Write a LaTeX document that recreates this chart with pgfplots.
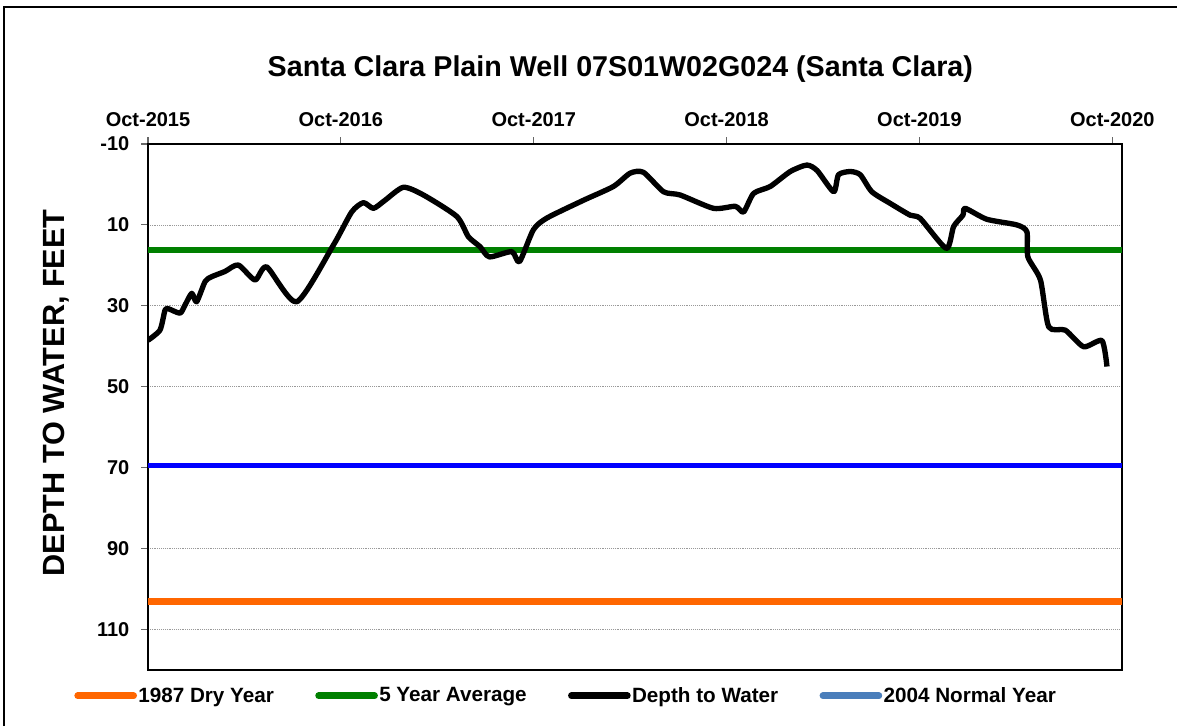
\documentclass[border=0pt]{standalone}
\usepackage{fontspec}
\setmainfont{Liberation Sans}
\usepackage{pgfplots}
\pgfplotsset{compat=1.18}
\definecolor{dryorange}{RGB}{255,102,0}
\definecolor{avggreen}{RGB}{0,128,0}
\definecolor{normblue}{RGB}{0,0,255}
\definecolor{legblue}{RGB}{74,126,187}

% depth to water, x in years after Oct-2015
\pgfplotstableread{
x y
0.000 38.5
0.062 36.0
0.088 31.1
0.105 30.7
0.166 31.8
0.192 29.8
0.227 26.9
0.252 29.0
0.296 24.0
0.330 22.8
0.399 21.5
0.468 19.9
0.555 23.6
0.616 20.4
0.771 29.0
0.961 15.0
1.056 6.8
1.117 4.5
1.169 5.9
1.229 3.9
1.324 0.7
1.428 2.6
1.601 7.9
1.661 12.9
1.722 15.4
1.770 17.9
1.886 16.6
1.926 19.1
1.998 11.2
2.068 8.3
2.258 3.9
2.413 0.5
2.500 -2.8
2.569 -3.0
2.673 1.8
2.759 2.6
2.932 5.9
3.045 5.4
3.088 6.8
3.140 2.2
3.226 0.5
3.330 -3.2
3.416 -4.8
3.470 -3.4
3.555 1.8
3.580 -2.4
3.641 -3.2
3.693 -2.4
3.753 1.8
3.849 4.7
3.952 7.6
4.004 8.4
4.139 15.8
4.177 10.4
4.225 7.6
4.237 5.9
4.349 8.6
4.505 10.0
4.557 11.7
4.562 17.9
4.627 23.6
4.670 35.2
4.756 36.0
4.851 40.1
4.946 38.6
4.972 45.0
}\depthdata

\begin{document}
\begin{tikzpicture}
\useasboundingbox (0,0) rectangle (882.75pt,544.5pt);
\draw[line width=1.6pt] (3pt,0) -- (3pt,539.25pt) -- (882.75pt,539.25pt);
\begin{axis}[
    at={(111pt,42pt)}, anchor=south west,
    scale only axis, width=730.5pt, height=394.5pt,
    xmin=0, xmax=5.05,
    ymin=-10, ymax=120, y dir=reverse,
    xtick={0,1,2,3,4,5},
    xticklabels={Oct-2015,Oct-2016,Oct-2017,Oct-2018,Oct-2019,Oct-2020},
    xticklabel pos=upper, xtick pos=upper,
    ytick={-10,10,30,50,70,90,110}, ytick pos=left,
    tick align=outside, major tick length=5pt,
    tick style={line width=0.8pt, black!60},
    ymajorgrids,
    grid style={densely dotted, gray!80, line width=0.6pt},
    axis line style={line width=1.6pt},
    /pgf/number format/assume math mode=true,
    ticklabel style={font=\bfseries\fontsize{15}{18}\selectfont},
    xticklabel style={yshift=4.5pt},
    yticklabel style={xshift=-5.5pt},
    title={Santa Clara Plain Well 07S01W02G024 (Santa Clara)},
    title style={at={(axis description cs:0.485,1.127)}, anchor=center,
        font=\bfseries\fontsize{21.5}{26}\selectfont},
    ylabel={DEPTH TO WATER, FEET},
    ylabel style={at={(axis description cs:-0.0945,0.527)}, anchor=center,
        font=\bfseries\fontsize{23}{28}\selectfont},
    legend style={at={(axis description cs:-0.08,-0.049)}, anchor=west,
        draw=none, fill=none, legend columns=-1,
        font=\bfseries\fontsize{15.5}{18}\selectfont,
        nodes={inner xsep=1pt},
        /tikz/every even column/.append style={column sep=30pt}},
    legend image code/.code={\draw[#1, line cap=round, line width=5pt] (0pt,0pt) -- (42pt,0pt);},
]
\addplot[dryorange, line width=5.2pt] coordinates {(0,103) (5.05,103)};
\addlegendentry{1987 Dry Year}
\addplot[avggreen, line width=4pt] coordinates {(0,16.2) (5.05,16.2)};
\addlegendentry{5 Year Average}
\addplot[normblue, line width=4pt, forget plot] coordinates {(0,69.4) (5.05,69.4)};
\addplot[black, line width=4pt, smooth, tension=0.4, line join=round] table[x=x, y=y] {\depthdata};
\addlegendentry{Depth to Water}
\addlegendimage{legblue}
\addlegendentry{2004 Normal Year}
\end{axis}
\end{tikzpicture}
\end{document}
